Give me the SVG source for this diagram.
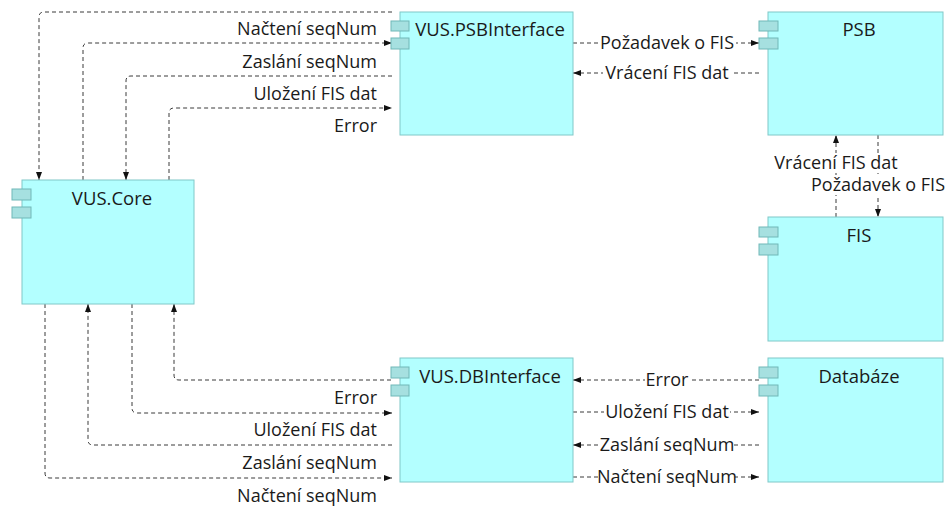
<svg xmlns="http://www.w3.org/2000/svg" width="951" height="506" viewBox="0 0 951 506">
<style>
.box{fill:#b3ffff;stroke:#80c8c8;stroke-width:1}
.port{fill:#a6e0e0;stroke:#70b8b8;stroke-width:1}
.title{font-family:"Open Sans","Noto Sans",sans-serif;font-size:18.5px;fill:#1a1a1a;text-anchor:middle}
.lbl{font-family:"Open Sans","Noto Sans",sans-serif;font-size:18px;fill:#1a1a1a}
.r{text-anchor:end}
.c{text-anchor:middle}
.bg{fill:#ffffff}
.e{fill:none;stroke:#3a3a3a;stroke-width:1;stroke-dasharray:4 3}
.a{marker-end:url(#arr)}
</style>
<defs>
<marker id="arr" viewBox="0 0 8 6" refX="8" refY="3" markerWidth="8" markerHeight="6" markerUnits="userSpaceOnUse" orient="auto">
<path d="M0,0 L8,3 L0,6 z" fill="#111111"/>
</marker>
</defs>
<rect width="951" height="506" fill="#ffffff"/>
<g id="connectors">
<path class="e a" d="M392,12 H44 Q39,12 39,17 V180"/>
<path class="e a" d="M83,180 V48 Q83,43 88,43 H392"/>
<path class="e a" d="M392,76 H131 Q126,76 126,81 V180"/>
<path class="e a" d="M169,180 V113 Q169,108 174,108 H392"/>
<path class="e a" d="M391,380 H179 Q174,380 174,375 V304"/>
<path class="e a" d="M132,304 V408 Q132,413 137,413 H392"/>
<path class="e a" d="M392,445 H93 Q88,445 88,440 V304"/>
<path class="e a" d="M45,304 V473 Q45,478 50,478 H392"/>
<path class="e a" d="M573,43 H759"/>
<path class="e a" d="M759,73 H573"/>
<path class="e a" d="M836,217 V135"/>
<path class="e a" d="M878,135 V217"/>
<path class="e a" d="M759,380 H573"/>
<path class="e a" d="M573,412 H759"/>
<path class="e a" d="M759,445 H573"/>
<path class="e a" d="M573,477 H759"/>
<rect class="bg" x="598" y="35" width="138" height="17"/>
<rect class="bg" x="603" y="65" width="128" height="17"/>
<rect class="bg" x="774" y="153" width="124" height="20"/>
<rect class="bg" x="809" y="175" width="138" height="20"/>
<rect class="bg" x="645" y="372" width="44" height="17"/>
<rect class="bg" x="604" y="404" width="126" height="17"/>
<rect class="bg" x="601" y="437" width="132" height="17"/>
<rect class="bg" x="599" y="469" width="136" height="17"/>
<text class="lbl r" x="377" y="35">Načtení seqNum</text>
<text class="lbl r" x="377" y="68">Zaslání seqNum</text>
<text class="lbl r" x="377" y="100">Uložení FIS dat</text>
<text class="lbl r" x="377" y="132">Error</text>
<text class="lbl r" x="377" y="404">Error</text>
<text class="lbl r" x="377" y="436">Uložení FIS dat</text>
<text class="lbl r" x="377" y="469">Zaslání seqNum</text>
<text class="lbl r" x="377" y="502">Načtení seqNum</text>
<text class="lbl c" x="667" y="49">Požadavek o FIS</text>
<text class="lbl c" x="667" y="79">Vrácení FIS dat</text>
<text class="lbl c" x="836" y="169">Vrácení FIS dat</text>
<text class="lbl c" x="878" y="191">Požadavek o FIS</text>
<text class="lbl c" x="667" y="386">Error</text>
<text class="lbl c" x="667" y="418">Uložení FIS dat</text>
<text class="lbl c" x="667" y="451">Zaslání seqNum</text>
<text class="lbl c" x="667" y="483">Načtení seqNum</text>
</g>
<g id="psbinterface">
<rect class="box" x="400" y="12" width="173" height="123"/>
<rect class="port" x="391" y="21" width="18" height="10"/>
<rect class="port" x="391" y="38" width="18" height="11"/>
<text class="title" x="490" y="36">VUS.PSBInterface</text>
</g>
<g id="psb">
<rect class="box" x="768" y="12" width="175" height="123"/>
<rect class="port" x="759" y="21" width="19" height="10"/>
<rect class="port" x="759" y="38" width="19" height="11"/>
<text class="title" x="859" y="36">PSB</text>
</g>
<g id="fis">
<rect class="box" x="768" y="217" width="175" height="124"/>
<rect class="port" x="759" y="227" width="19" height="10"/>
<rect class="port" x="759" y="244" width="19" height="11"/>
<text class="title" x="859" y="242">FIS</text>
</g>
<g id="core">
<rect class="box" x="22" y="180" width="172" height="124"/>
<rect class="port" x="12" y="189" width="19" height="11"/>
<rect class="port" x="12" y="207" width="19" height="11"/>
<text class="title" x="112" y="205">VUS.Core</text>
</g>
<g id="dbinterface">
<rect class="box" x="400" y="358" width="173" height="124"/>
<rect class="port" x="391" y="367" width="18" height="11"/>
<rect class="port" x="391" y="385" width="18" height="11"/>
<text class="title" x="490" y="383">VUS.DBInterface</text>
</g>
<g id="databaze">
<rect class="box" x="768" y="358" width="175" height="124"/>
<rect class="port" x="759" y="367" width="19" height="11"/>
<rect class="port" x="759" y="385" width="19" height="11"/>
<text class="title" x="859" y="383">Databáze</text>
</g>
</svg>
